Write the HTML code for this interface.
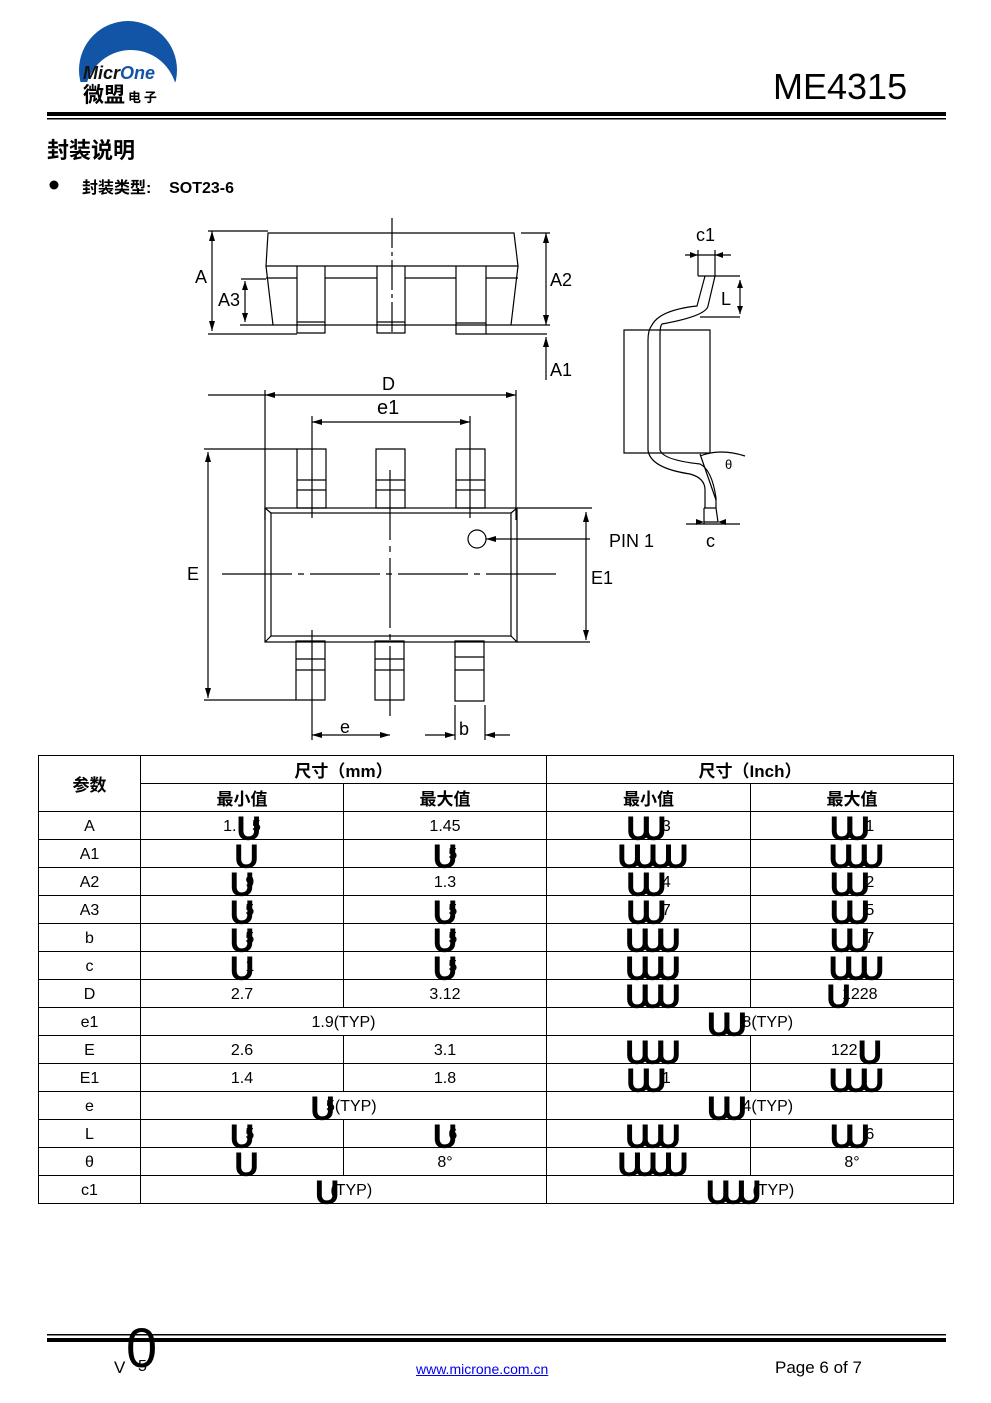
<!DOCTYPE html>
<html><head><meta charset="utf-8"><style>
*{margin:0;padding:0;box-sizing:border-box}
body{width:991px;height:1403px;background:#fff;position:relative;font-family:"Liberation Sans","Noto Sans CJK SC",sans-serif;color:#000;overflow:hidden}
.a{position:absolute;white-space:nowrap}
table{position:absolute;left:38px;top:755px;width:916px;border-collapse:collapse;font-size:16px}
td{border:1.5px solid #000;height:28px;text-align:center;padding:2px 0 0 0;line-height:24px;position:relative}
th{border:1.5px solid #000;font-weight:bold;height:28px;font-size:17px}
.u{font-weight:bold;font-size:34px;line-height:0;display:inline-block;letter-spacing:-9px;vertical-align:-9px}
</style></head><body>
<svg class="a" style="left:0;top:0" width="991" height="1403">
<defs><clipPath id="lc"><rect x="70" y="10" width="120" height="72"/></clipPath></defs>
<g clip-path="url(#lc)"><circle cx="128" cy="70" r="49" fill="#1254a6"/><circle cx="131" cy="96" r="46" fill="#fff"/></g>
<rect x="47" y="112" width="899" height="4" fill="#000"/><rect x="47" y="118" width="899" height="1.5" fill="#000"/>
<rect x="47" y="1334" width="899" height="1.5" fill="#000"/><rect x="47" y="1338" width="899" height="4" fill="#000"/>
<circle cx="54" cy="185" r="4.5" fill="#000"/>
<g stroke="#000" stroke-width="1.2" fill="none">
<path d="M268 233 L514 233 L518 266 L266 266 Z"/>
<path d="M266 266 L273 325 L511 325 L518 266"/>
<path d="M297 266V333H325V266M377 266V333H405V266M456 266V334H486V266"/>
<path d="M297 322H325M377 322H405M456 323H486"/>
<path d="M266 278H297M325 278H377M405 278H456M486 278H518"/>
<path d="M392 218V333" stroke-dasharray="30 4 4 4"/>
<path d="M208 231H268M208 334H297M241 279H266M240 325H273M486 334H547M521 233H550M511 325H550"/>
<path d="M212 231V331M245 281V322M546 233V325M546 337V380"/>
<path d="M208 395H265M265 390V520M516 390V520"/>
<path d="M265 395H516M312 422H470M312 416V518M470 416V518"/>
<path d="M297 449V508H326V449ZM376 449V508H405V449ZM456 449V508H485V449Z"/>
<path d="M297 480H326M297 490H326M376 480H405M376 490H405M456 480H485M456 490H485"/>
<rect x="265" y="508" width="252" height="134"/><rect x="271" y="513" width="240" height="123"/>
<path d="M265 508L271 513M517 508L511 513M265 642L271 636M517 642L511 636"/>
<path d="M390 470V720M222 574H558" stroke-dasharray="70 6 6 6"/>
<path d="M296 641V700H325V641ZM375 641V700H404V641ZM455 641V701H484V641Z"/>
<path d="M296 659H325M296 670H325M375 659H404M375 670H404M455 657H484M455 670H484"/>
<circle cx="477" cy="539" r="9"/>
<path d="M486 539H590M517 508H592M517 642H590M586 512V640"/>
<path d="M204 449H297M204 700H296M208 452V698"/>
<path d="M312 630V740M455 705V740M485 705V740M312 735H390M425 735H455M485 735H510"/>
<path d="M624 330H710L710 453H624Z"/>
<path d="M698 276H740M700 317H740M740 280V314M698 250V276M715 250V276M685 255H731"/>
<path d="M705 276L697 306Q660 310 652 325Q648 330 648 340L648 450Q650 468 690 474Q705 478 705 490V508M715 276L708 306Q706 316 662 324Q660 326 660 335L660 450Q663 460 700 464Q712 470 716 498V508M704 508H716"/>
<path d="M704 522H718L716 508M704 508V524M686 524H740M700 454L716 500M700 456Q720 448 745 456"/>
</g>
<g fill="#000"><path d="M212 231l-3 10h6zM212 331l-3-10h6zM245 281l-3 9h6zM245 322l-3-9h6zM546 233l-3 10h6zM546 325l-3-10h6zM546 337l-3 10h6zM265 395l10-3v6zM516 395l-10-3v6zM312 422l10-3v6zM470 422l-10-3v6zM486 539l10-3v6zM586 512l-3 10h6zM586 640l-3-10h6zM208 452l-3 10h6zM208 698l-3-10h6zM312 735l10-3v6zM390 735l-10-3v6zM455 735l-10-3v6zM485 735l10-3v6zM698 255l-8-3v6zM715 255l8-3v6zM740 280l-3 8h6zM740 314l-3-8h6zM704 522l-8-3v6zM718 522l8-3v6z"/></g>
<g font-family="Liberation Sans" font-size="18">
<text x="195" y="283">A</text><text x="218" y="306">A3</text><text x="550" y="286">A2</text><text x="550" y="376">A1</text>
<text x="382" y="390">D</text><text x="377" y="414" font-size="20">e1</text><text x="187" y="580">E</text><text x="591" y="584">E1</text>
<text x="609" y="547">PIN 1</text><text x="340" y="733">e</text><text x="459" y="735">b</text>
<text x="696" y="241">c1</text><text x="721" y="305">L</text><text x="725" y="469" font-size="13">θ</text><text x="706" y="547">c</text>
</g>
</svg>
<div class="a" style="left:83px;top:63px;font:italic bold 18px 'Liberation Sans';color:#111">Micr<span style="color:#1254a6">One</span></div>
<div class="a" style="left:83px;top:81px;font:bold 21px 'Noto Sans CJK SC',sans-serif;line-height:26px">微盟<span style="font-size:13px"> 电 子</span></div>
<div class="a" style="left:773px;top:66px;font-size:36px">ME4315</div>
<div class="a" style="left:47px;top:133px;font:bold 22px 'Noto Sans CJK SC',sans-serif">封装说明</div>
<div class="a" style="left:82px;top:174px;font:bold 16px 'Liberation Sans','Noto Sans CJK SC',sans-serif">封装类型:&nbsp;&nbsp;&nbsp; SOT23-6</div>
<table>
<tr><th rowspan="2" style="width:102px">参数</th><th colspan="2">尺寸（mm）</th><th colspan="2">尺寸（Inch）</th></tr>
<tr><th style="width:203px">最小值</th><th style="width:203px">最大值</th><th style="width:204px">最小值</th><th>最大值</th></tr>
<tr><td>A</td><td>1.<span class="u">U</span>5</td><td>1.45</td><td><span class="u">UU</span> 3</td><td><span class="u">UU</span> 1</td></tr>
<tr><td>A1</td><td><span class="u">U</span></td><td><span class="u">U</span>5</td><td><span class="u">UUUU</span></td><td><span class="u">UUU</span></td></tr>
<tr><td>A2</td><td><span class="u">U</span>9</td><td>1.3</td><td><span class="u">UU</span> 4</td><td><span class="u">UU</span> 2</td></tr>
<tr><td>A3</td><td><span class="u">U</span>5</td><td><span class="u">U</span>5</td><td><span class="u">UU</span> 7</td><td><span class="u">UU</span> 5</td></tr>
<tr><td>b</td><td><span class="u">U</span>5</td><td><span class="u">U</span>5</td><td><span class="u">UUU</span></td><td><span class="u">UU</span> 7</td></tr>
<tr><td>c</td><td><span class="u">U</span>1</td><td><span class="u">U</span>5</td><td><span class="u">UUU</span></td><td><span class="u">UUU</span></td></tr>
<tr><td>D</td><td>2.7</td><td>3.12</td><td><span class="u">UUU</span></td><td><span class="u">U</span>1228</td></tr>
<tr><td>e1</td><td colspan="2">1.9(TYP)</td><td colspan="2"><span class="u">UU</span> 8(TYP)</td></tr>
<tr><td>E</td><td>2.6</td><td>3.1</td><td><span class="u">UUU</span></td><td>122<span class="u">U</span></td></tr>
<tr><td>E1</td><td>1.4</td><td>1.8</td><td><span class="u">UU</span> 1</td><td><span class="u">UUU</span></td></tr>
<tr><td>e</td><td colspan="2"><span class="u">U</span>5(TYP)</td><td colspan="2"><span class="u">UU</span> 4(TYP)</td></tr>
<tr><td>L</td><td><span class="u">U</span>5</td><td><span class="u">U</span>6</td><td><span class="u">UUU</span></td><td><span class="u">UU</span> 6</td></tr>
<tr><td>θ</td><td><span class="u">U</span></td><td>8°</td><td><span class="u">UUUU</span></td><td>8°</td></tr>
<tr><td>c1</td><td colspan="2"><span class="u">U</span>(TYP)</td><td colspan="2"><span class="u">UUU</span>(TYP)</td></tr>
</table>
<div class="a" style="left:114px;top:1358px;font-size:17px">V</div>
<div class="a" style="left:126px;top:1316px;font-size:56px;line-height:64px">0</div>
<div class="a" style="left:138px;top:1358px;font-size:16px">5</div>
<div class="a" style="left:416px;top:1361px;font-size:14px;color:#0000ee;text-decoration:underline">www.microne.com.cn</div>
<div class="a" style="left:775px;top:1358px;font-size:17px">Page 6 of 7</div>
</body></html>
